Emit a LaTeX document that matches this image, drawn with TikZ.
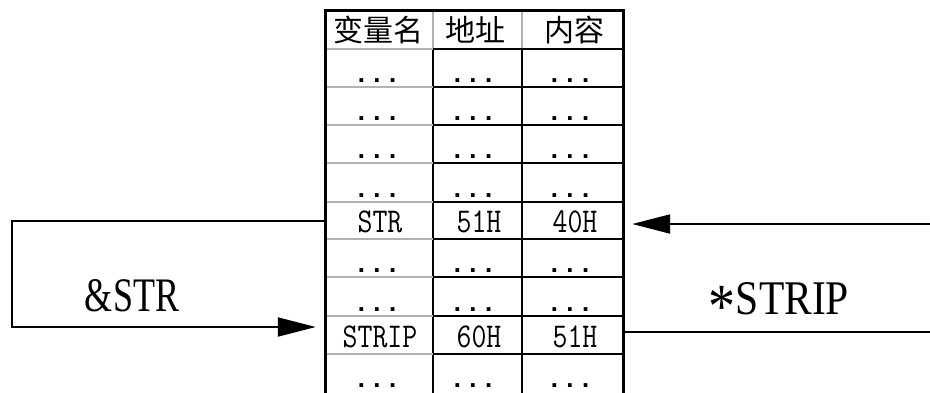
\documentclass[tikz,border=0pt]{standalone}
\usepackage{graphicx}
\usepackage{fontspec}
\newfontfamily\cjk{Noto Sans CJK SC}
\newfontfamily\monof{Liberation Mono}
\newfontfamily\lmmono{Latin Modern Mono}
\newfontfamily\serf{Liberation Serif}
\usetikzlibrary{arrows.meta}
\newcommand{\mtx}[1]{\scalebox{1}[1.2]{#1}}
\begin{document}
\begin{tikzpicture}[x=1pt,y=-1pt,
  frame/.style={line width=3pt},
  gridline/.style={line width=1.6pt},
  faint/.style={line width=1.2pt, draw=black!30},
  conn/.style={line width=2pt},
  tip/.style={-{Triangle[length=38pt,width=19pt]}},
  monocell/.style={inner sep=0pt, font=\lmmono\fontsize{29}{29}\selectfont},
  dotcell/.style={inner sep=0pt, anchor=base, font=\monof\bfseries\fontsize{26}{26}\selectfont},
  headcell/.style={inner sep=0pt, font=\cjk\fontsize{30}{30}\selectfont},
  lab/.style={inner sep=0pt}]
\useasboundingbox (0,0) rectangle (930,392);
% table outline node
\node[inner sep=0pt, minimum width=298pt, minimum height=382pt] (tab) at (474,201) {};
% grid
\draw[faint] (433,10) -- (433,49);
\draw[faint] (522,10) -- (522,49);
\draw[gridline] (433,49) -- (433,393);
\draw[gridline] (522,49) -- (522,393);
\foreach \y in {49,87,125,163,202,239,277,316,354}{
  \draw[faint] (325,\y) -- (433,\y);
  \draw[gridline] (433,\y) -- (623,\y);
}
\draw[frame] (325,394) -- (325,10) -- (623,10) -- (623,394);
% header
\node[headcell] (h1) at (378,30) {变量名};
\node[headcell] (h2) at (475,30) {地址};
\node[headcell] (h3) at (574,30) {内容};
% dots rows
\foreach \y [count=\i] in {82,120,158,197,272,311,387}{
  \node[dotcell] (da\i) at (377,\y) {...};
  \node[dotcell] (db\i) at (473,\y) {...};
  \node[dotcell] (dc\i) at (570,\y) {...};
}
% data rows
\node[monocell] (strn) at (380,222) {\mtx{STR}};
\node[monocell] (stra) at (479,222) {\mtx{51H}};
\node[monocell] (strc) at (575,222) {\mtx{40H}};
\node[monocell] (stpn) at (380,337) {\mtx{STRIP}};
\node[monocell] (stpa) at (479,337) {\mtx{60H}};
\node[monocell] (stpc) at (575,337) {\mtx{51H}};
% labels
\node[lab] (l1) at (132,296) {\resizebox{94pt}{32pt}{\serf\&STR}};
\node[lab] (l2) at (779,305) {\resizebox{140pt}{32pt}{\serf\raisebox{-0.28em}{\scalebox{1.3}{*}}STRIP}};
% connectors
\coordinate (a1) at (12,221);
\coordinate (a2) at (12,327);
\coordinate (b1) at (930,224);
\coordinate (b2) at (930,332);
\draw[conn, tip, shorten >=9pt] (tab.west |- a1) -- (a1) -- (a2) -- (tab.west |- a2);
\draw[conn, tip, shorten >=9pt] (b1) -- (tab.east |- b1);
\draw[conn] (tab.east |- b2) -- (b2);
\end{tikzpicture}
\end{document}
